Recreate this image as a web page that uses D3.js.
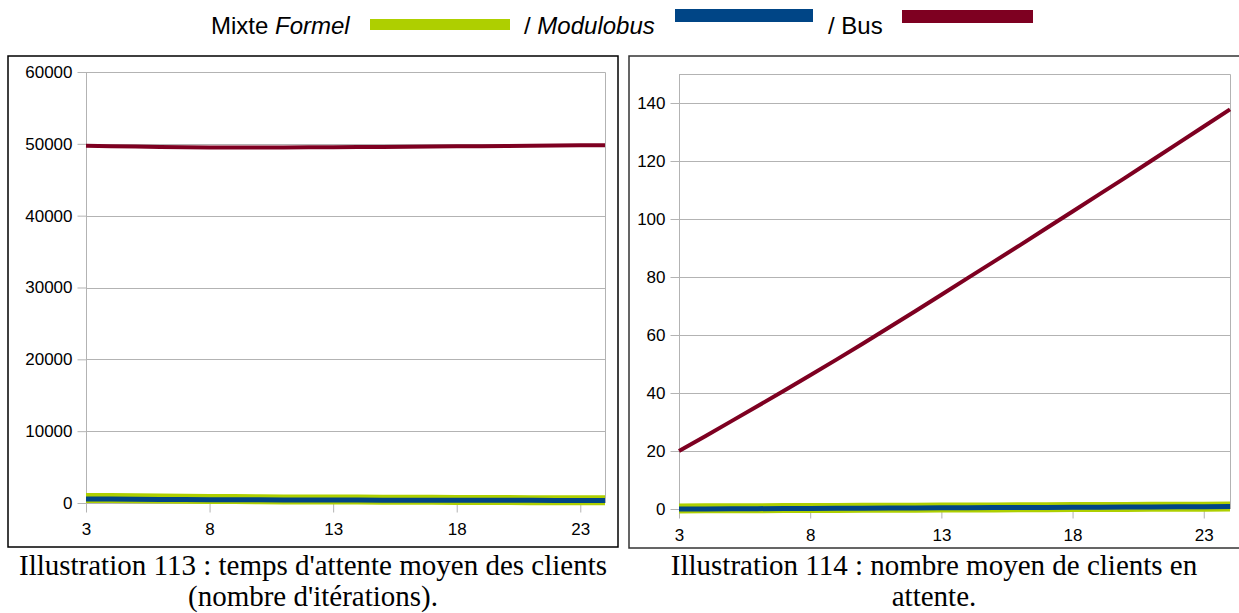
<!DOCTYPE html>
<html>
<head>
<meta charset="utf-8">
<script src="https://cdn.jsdelivr.net/npm/d3@7"></script>
<style>
  html, body { margin: 0; padding: 0; background: #fff; }
  svg { display: block; }
</style>
</head>
<body>
<svg id="chart" width="1239" height="613"></svg>
<script>
// Simulation parameter (x axis of both charts)
const xValues = [3, 4, 5, 6, 7, 8, 9, 10, 11, 12, 13, 14, 15, 16, 17, 18, 19, 20, 21, 22, 23, 24];
const xTickValues = [3, 8, 13, 18, 23];

// Left chart: mean client waiting time (iterations)
const waitFormel    = [700, 680, 650, 620, 590, 560, 540, 520, 500, 490, 480, 470, 460, 450, 440, 430, 420, 410, 400, 390, 380, 370];
const waitModulobus = [560, 540, 520, 500, 480, 460, 450, 440, 430, 420, 410, 405, 400, 395, 390, 385, 380, 375, 370, 365, 360, 355];
const waitBus       = [49750, 49680, 49620, 49570, 49530, 49500, 49490, 49490, 49500, 49510, 49530, 49550, 49570, 49600, 49620, 49650, 49680, 49710, 49740, 49770, 49790, 49810];
const waitTicks     = [0, 10000, 20000, 30000, 40000, 50000, 60000];

// Right chart: mean number of waiting clients
const queueFormel    = [0.2, 0.23, 0.26, 0.29, 0.32, 0.35, 0.38, 0.41, 0.44, 0.47, 0.5, 0.53, 0.56, 0.59, 0.62, 0.65, 0.68, 0.71, 0.74, 0.77, 0.8, 0.83];
const queueModulobus = [0.0, 0.04, 0.08, 0.12, 0.16, 0.2, 0.24, 0.28, 0.32, 0.36, 0.4, 0.44, 0.48, 0.52, 0.56, 0.6, 0.64, 0.68, 0.72, 0.76, 0.8, 0.84];
const queueBus       = [20, 25.1, 30.3, 35.5, 40.8, 46.1, 51.5, 57.0, 62.6, 68.2, 73.9, 79.6, 85.3, 91.0, 96.8, 102.6, 108.4, 114.2, 120.1, 126.0, 131.9, 137.8];
const queueTicks     = [0, 20, 40, 60, 80, 100, 120, 140];

const colors = { formel: "#aecf00", modulobus: "#004586", bus: "#7e0021" };
const gridColor = "#b3b3b3";
const sans = "'Liberation Sans', Arial, sans-serif";
const serif = "'Liberation Serif', 'Times New Roman', serif";

const svg = d3.select("#chart");

// ---- Legend ----
const legend = svg.append("g");
function legendText(x, parts) {
  const t = legend.append("text")
    .attr("x", x).attr("y", 34)
    .attr("font-family", sans).attr("font-size", 24).attr("fill", "#000");
  parts.forEach(p => t.append("tspan").attr("font-style", p.italic ? "italic" : "normal").text(p.s));
}
legendText(211, [{ s: "Mixte " }, { s: "Formel", italic: true }]);
legend.append("rect").attr("x", 370).attr("y", 19).attr("width", 140).attr("height", 11).attr("fill", colors.formel);
legendText(524, [{ s: "/ " }, { s: "Modulobus", italic: true }]);
legend.append("rect").attr("x", 675).attr("y", 9).attr("width", 138).attr("height", 13).attr("fill", colors.modulobus);
legendText(828, [{ s: "/ Bus" }]);
legend.append("rect").attr("x", 902).attr("y", 10).attr("width", 131).attr("height", 13).attr("fill", colors.bus);

// ---- Chart panels ----
function drawPanel(cfg) {
  const g = svg.append("g");

  g.append("rect")
    .attr("x", cfg.box.x).attr("y", cfg.box.y)
    .attr("width", cfg.box.w).attr("height", cfg.box.h)
    .attr("fill", "#fff").attr("stroke", cfg.box.stroke).attr("stroke-width", 1.5);

  const x = d3.scaleLinear().domain([xValues[0], xValues[xValues.length - 1]]).range([cfg.plot.left, cfg.plot.right]);
  const y = d3.scaleLinear().domain(cfg.yDomain).range([cfg.plot.bottom, cfg.plot.top]);

  // horizontal grid
  g.append("g").selectAll("line").data(cfg.yTicks).join("line")
    .attr("x1", cfg.plot.left).attr("x2", cfg.plot.right)
    .attr("y1", d => Math.round(y(d)) + 0.5).attr("y2", d => Math.round(y(d)) + 0.5)
    .attr("stroke", gridColor).attr("stroke-width", 1);

  // plot frame (top and right)
  g.append("path")
    .attr("d", `M${cfg.plot.left},${Math.round(cfg.plot.top) + 0.5}H${Math.round(cfg.plot.right) + 0.5}V${cfg.plot.bottom}`)
    .attr("fill", "none").attr("stroke", gridColor);

  // y axis
  const yAxis = g.append("g")
    .attr("transform", `translate(${Math.round(cfg.plot.left) + 0.5},0)`)
    .call(d3.axisLeft(y).tickValues(cfg.yTicks).tickSize(9).tickPadding(5).tickFormat(d3.format("d")));
  yAxis.select(".domain").attr("stroke", gridColor).attr("d", `M0,${cfg.plot.top}V${cfg.plot.bottom + 9}`);
  yAxis.selectAll(".tick line").attr("stroke", gridColor);
  yAxis.selectAll(".tick text").attr("font-family", sans).attr("font-size", 17).attr("fill", "#000");

  // x axis
  const xAxis = g.append("g")
    .attr("transform", `translate(0,${Math.round(cfg.plot.bottom) + 0.5})`)
    .call(d3.axisBottom(x).tickValues(xTickValues).tickSize(9).tickPadding(10).tickFormat(d3.format("d")));
  xAxis.select(".domain").remove();
  xAxis.selectAll(".tick line").attr("stroke", gridColor);
  xAxis.selectAll(".tick text").attr("font-family", sans).attr("font-size", 17).attr("fill", "#000");

  const line = d3.line().x((d, i) => x(xValues[i])).y(d => y(d));
  const series = [
    { values: cfg.formel, color: colors.formel, width: 10 },
    { values: cfg.modulobus, color: colors.modulobus, width: 5 },
    { values: cfg.bus, color: colors.bus, width: 4 }
  ];
  g.append("g").selectAll("path").data(series).join("path")
    .attr("d", s => line(s.values))
    .attr("fill", "none")
    .attr("stroke", s => s.color)
    .attr("stroke-width", s => s.width)
    .attr("stroke-linejoin", "round");

  // caption
  const cap = g.append("text")
    .attr("x", cfg.captionX).attr("text-anchor", "middle")
    .attr("font-family", serif).attr("font-size", 29).attr("fill", "#000");
  cfg.caption.forEach((s, i) => cap.append("tspan").attr("x", cfg.captionX).attr("y", 575 + i * 31).text(s));
}

drawPanel({
  box: { x: 8, y: 56, w: 610, h: 491, stroke: "#000" },
  plot: { left: 86, right: 605, top: 72, bottom: 503 },
  yDomain: [0, 60000], yTicks: waitTicks,
  formel: waitFormel, modulobus: waitModulobus, bus: waitBus,
  captionX: 313,
  caption: ["Illustration 113 : temps d'attente moyen des clients", "(nombre d'itérations)."]
});

drawPanel({
  box: { x: 629, y: 56, w: 620, h: 492, stroke: "#333" },
  plot: { left: 679, right: 1230, top: 74, bottom: 509 },
  yDomain: [0, 150], yTicks: queueTicks,
  formel: queueFormel, modulobus: queueModulobus, bus: queueBus,
  captionX: 934,
  caption: ["Illustration 114 : nombre moyen de clients en", "attente."]
});
</script>
</body>
</html>
